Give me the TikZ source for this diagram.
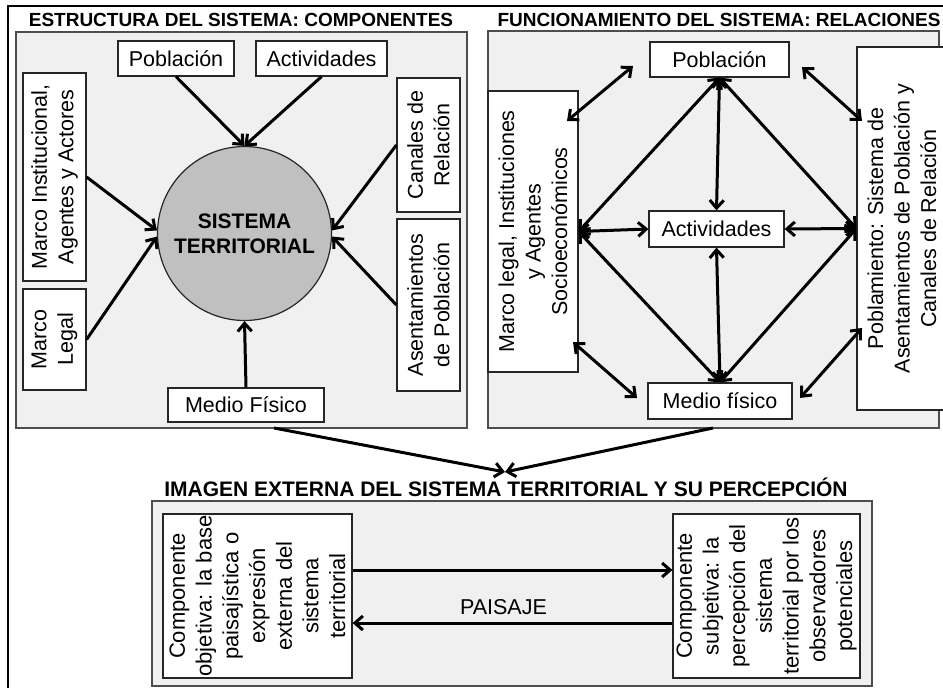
\documentclass[tikz,border=0pt]{standalone}
\usepackage{fontspec}
\setmainfont{Liberation Sans}
\usetikzlibrary{arrows.meta}

\definecolor{panelgray}{HTML}{F0F0F0}
\definecolor{edgegray}{HTML}{4D4D4D}
\definecolor{coregray}{HTML}{C0C0C0}

\tikzset{
    every node/.style={font=\fontsize{21.5}{26.5}\selectfont},
    panel/.style={draw=edgegray, line width=1.5pt, fill=panelgray},
    comp/.style={draw=black!85, line width=1.2pt, fill=white, inner sep=0pt, align=center},
    vcomp/.style={comp, rotate=90},
    heading/.style={font=\bfseries\fontsize{19}{22}\selectfont},
    arr/.style={line width=3pt, -{Straight Barb[length=8pt,width=14pt]}},
    darr/.style={line width=3pt, {Straight Barb[length=8pt,width=14pt]}-{Straight Barb[length=8pt,width=14pt]}},
}

\begin{document}
\begin{tikzpicture}[x=1pt,y=-1pt]
        \useasboundingbox (0,0) rectangle (943,688);
        \draw[line width=1.2pt] (8,690) -- (8,6) -- (950,6);  % outer frame

        % componentes
        \node[heading] (ttlA) at (241,20) {ESTRUCTURA DEL SISTEMA: COMPONENTES};
        \draw[panel] (16,32) rectangle (467,428);
        \node[comp, circle, fill=coregray, minimum size=174pt,
              font=\bfseries\fontsize{21}{25}\selectfont] (sys) at (244.5,233.5) {SISTEMA\\TERRITORIAL};
        \node[comp, minimum width=116pt, minimum height=35pt] (pobA) at (176,58.5) {Población};
        \node[comp, minimum width=131pt, minimum height=35pt] (actA) at (321.5,58.5) {Actividades};
        \node[comp, minimum width=156pt, minimum height=34pt] (medA) at (246,405) {Medio Físico};
        \node[vcomp, minimum width=208pt, minimum height=63pt] (instA) at (54.5,177) {Marco Institucional,\\Agentes y Actores};
        \node[vcomp, minimum width=101pt, minimum height=63pt] (legA) at (54.5,339.5) {Marco\\Legal};
        \node[vcomp, minimum width=134pt, minimum height=63pt] (canA) at (428.5,145) {Canales de\\Relación};
        \node[vcomp, minimum width=172pt, minimum height=63pt] (aseA) at (428.5,305) {Asentamientos\\de Población};

        \foreach \from/\to in {pobA.south/sys.north, actA.south/sys.north, instA.south/sys.178,
                legA.south/sys.182, canA.north/sys.2, aseA.north/sys.358, medA.north/sys.south}
            \draw[arr] (\from) -- (\to);

        % relaciones
        \node[heading] (ttlB) at (719,20) {FUNCIONAMIENTO DEL SISTEMA: RELACIONES};
        \draw[panel] (488,31) rectangle (939,428);
        \node[vcomp, minimum width=281pt, minimum height=90pt] (legB) at (533,231.5) {Marco legal, Instituciones\\y Agentes\\Socioeconómicos};
        \node[vcomp, minimum width=363pt, minimum height=90pt] (pobmB) at (902,228.5) {Poblamiento: Sistema de\\Asentamientos de Población y\\Canales de Relación};
        \node[comp, minimum width=139pt, minimum height=35pt] (pobB) at (719.5,59.5) {Población};
        \node[comp, minimum width=135pt, minimum height=36pt] (actB) at (716.5,229) {Actividades};
        \node[comp, minimum width=144pt, minimum height=36pt] (medB) at (720,401) {Medio físico};

        \foreach \a/\b in {legB.south/pobB.south, pobB.south/pobmB.north, legB.south/medB.north,
                medB.north/pobmB.north, pobB.south/actB.north, actB.south/medB.north,
                legB.south/actB.west, actB.east/pobmB.north}
            \draw[darr] (\a) -- (\b);

        \coordinate (nw1) at (567,121);  \coordinate (nw2) at (633,66);
        \coordinate (ne1) at (802,67);   \coordinate (ne2) at (862,121);
        \coordinate (sw1) at (573,342);  \coordinate (sw2) at (637,398);
        \coordinate (se1) at (800,398);  \coordinate (se2) at (862,328);
        \foreach \a/\b in {nw1/nw2, ne1/ne2, sw1/sw2, se1/se2}
            \draw[darr] (\a) -- (\b);

        % imagen externa
        \coordinate (outA) at (274,428);
        \coordinate (outB) at (713,428);
        \coordinate (meet) at (505,472);
        \draw[arr] (outA) -- (meet);
        \draw[arr] (outB) -- (meet);

        \node[heading, font=\bfseries\fontsize{21}{24}\selectfont] (ttlC) at (506,487) {IMAGEN EXTERNA DEL SISTEMA TERRITORIAL Y SU PERCEPCIÓN};
        \draw[panel] (152,501) rectangle (872,686);
        \node[vcomp, minimum width=164pt, minimum height=189pt, font=\fontsize{22}{26.7}\selectfont] (objC) at (257.5,596)
            {Componente\\objetiva: la base\\paisajística o\\expresión\\externa del\\sistema\\territorial};
        \node[vcomp, minimum width=164pt, minimum height=187pt, font=\fontsize{22}{26.7}\selectfont] (subC) at (766.5,596)
            {Componente\\subjetiva: la\\percepción del\\sistema\\territorial por los\\observadores\\potenciales};

        \draw[arr] ([yshift=26pt]objC.south) -- ([yshift=26pt]subC.north);
        \draw[arr] ([yshift=-27pt]subC.north) -- ([yshift=-27pt]objC.south);
        \node (paisaje) at (503.5,607) {PAISAJE};
    \end{tikzpicture}
\end{document}
